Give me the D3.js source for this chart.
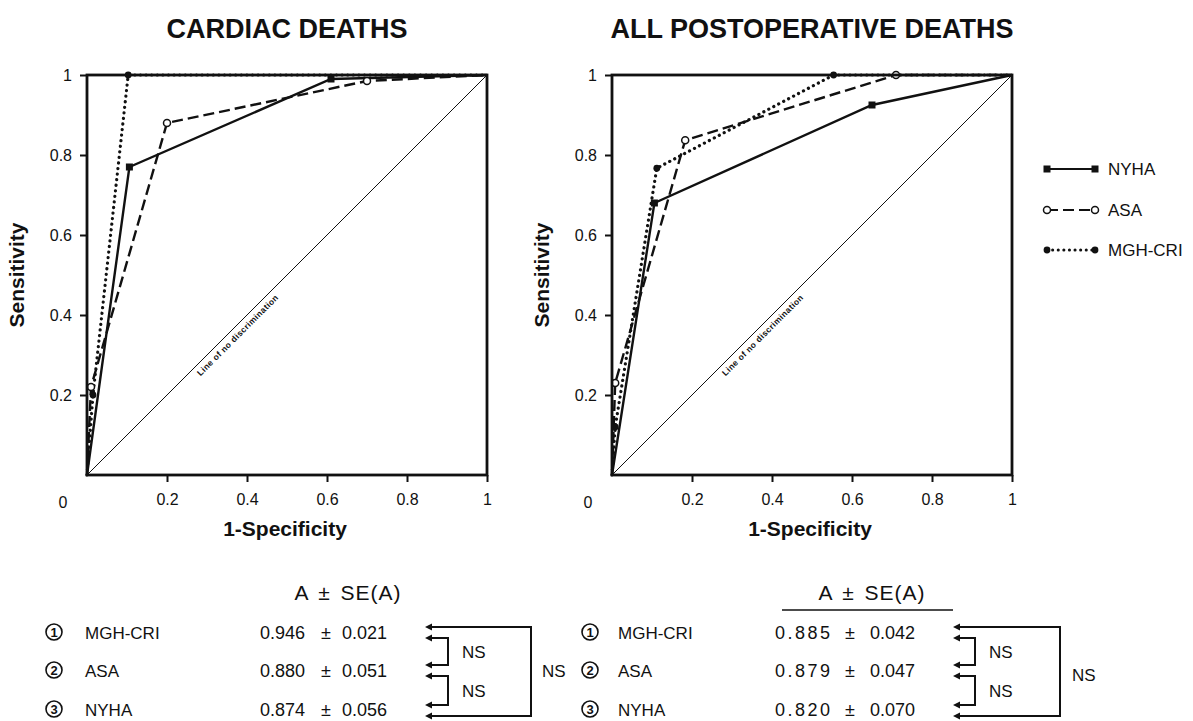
<!DOCTYPE html>
<html>
<head>
<meta charset="utf-8">
<script src="https://cdn.jsdelivr.net/npm/d3@7"></script>
<style>
  body { margin: 0; background: #fff; }
  text { font-family: "Liberation Sans", Arial, sans-serif; fill: #111; }
</style>
</head>
<body>
<div id="chart"></div>
<script>
// ---- data ----
const panelTitles = ["CARDIAC DEATHS", "ALL POSTOPERATIVE DEATHS"];
const seriesNames = ["NYHA", "ASA", "MGH-CRI"];
const xTicks = [0.2, 0.4, 0.6, 0.8, 1];
const yTicks = [0.2, 0.4, 0.6, 0.8, 1];

// [1-specificity, sensitivity]
const cardiacNYHA = [[0, 0], [0.106, 0.77], [0.61, 0.99], [1, 1]];
const cardiacASA  = [[0, 0], [0.01, 0.22], [0.2, 0.88], [0.7, 0.985], [1, 1]];
const cardiacMGH  = [[0, 0], [0.015, 0.2], [0.103, 1], [1, 1]];

const allNYHA = [[0, 0], [0.106, 0.68], [0.65, 0.925], [1, 1]];
const allASA  = [[0, 0], [0.008, 0.23], [0.183, 0.837], [0.71, 1], [1, 1]];
const allMGH  = [[0, 0], [0.008, 0.12], [0.112, 0.767], [0.554, 1], [1, 1]];

// areas under the curves, A ± SE(A)
const tableNames = ["MGH-CRI", "ASA", "NYHA"];
const cardiacA  = ["0.946", "0.880", "0.874"];
const cardiacSE = ["0.021", "0.051", "0.056"];
const allA  = ["0.885", "0.879", "0.820"];
const allSE = ["0.042", "0.047", "0.070"];
const compareLabel = "NS";

// ---- layout ----
const width = 1193, height = 721;
const plotTop = 75, plotSize = 400;
const plotLefts = [87, 612];

const svg = d3.select("#chart").append("svg")
    .attr("width", width)
    .attr("height", height);

const styles = {
  "NYHA":    {dash: null, marker: "square"},
  "ASA":     {dash: "11,5", marker: "open"},
  "MGH-CRI": {dash: "0.1,5.5", marker: "dot"}
};

const panelData = [
  [cardiacNYHA, cardiacASA, cardiacMGH],
  [allNYHA, allASA, allMGH]
];

const tickFmt = d => d === 1 ? "1" : d.toFixed(1);

function drawMarker(g, kind, cx, cy) {
  if (kind === "square") {
    g.append("rect").attr("x", cx - 3.5).attr("y", cy - 3.5)
      .attr("width", 7).attr("height", 7).attr("fill", "#111");
  } else if (kind === "open") {
    g.append("circle").attr("cx", cx).attr("cy", cy).attr("r", 3.5)
      .attr("fill", "#fff").attr("stroke", "#111").attr("stroke-width", 1.5);
  } else {
    g.append("circle").attr("cx", cx).attr("cy", cy).attr("r", 3.4)
      .attr("fill", "#111");
  }
}

plotLefts.forEach((left, p) => {
  const x = d3.scaleLinear().domain([0, 1]).range([left, left + plotSize]);
  const y = d3.scaleLinear().domain([0, 1]).range([plotTop + plotSize, plotTop]);
  const g = svg.append("g");

  // title
  g.append("text")
    .attr("x", left + plotSize / 2).attr("y", 38)
    .attr("text-anchor", "middle")
    .style("font-size", "27px").style("font-weight", "bold")
    .text(panelTitles[p]);

  // axes (outward ticks)
  const ax = g.append("g")
    .attr("transform", "translate(0," + (plotTop + plotSize) + ")")
    .call(d3.axisBottom(x).tickValues(xTicks).tickSize(7).tickSizeOuter(0).tickPadding(12).tickFormat(tickFmt));
  const ay = g.append("g")
    .attr("transform", "translate(" + left + ",0)")
    .call(d3.axisLeft(y).tickValues(yTicks).tickSize(7).tickSizeOuter(0).tickPadding(8).tickFormat(tickFmt));
  [ax, ay].forEach(a => {
    a.select(".domain").remove();
    a.selectAll(".tick line").attr("stroke", "#111").attr("stroke-width", 2);
    a.selectAll(".tick text").style("font-size", "16px").style("font-family", "'Liberation Sans', Arial, sans-serif").attr("fill", "#111");
  });

  // corner zero
  g.append("text")
    .attr("x", left - 24).attr("y", plotTop + plotSize + 33)
    .attr("text-anchor", "middle").style("font-size", "16px").text("0");

  // axis titles
  g.append("text")
    .attr("transform", "translate(" + (left - 63) + "," + (plotTop + plotSize / 2) + ") rotate(-90)")
    .attr("text-anchor", "middle")
    .style("font-size", "21px").style("font-weight", "bold")
    .text("Sensitivity");
  g.append("text")
    .attr("x", left + plotSize / 2 - 2).attr("y", plotTop + plotSize + 61)
    .attr("text-anchor", "middle")
    .style("font-size", "21px").style("font-weight", "bold")
    .text("1-Specificity");

  // line of no discrimination
  g.append("line")
    .attr("x1", x(0)).attr("y1", y(0)).attr("x2", x(1)).attr("y2", y(1))
    .attr("stroke", "#111").attr("stroke-width", 1);
  g.append("text")
    .attr("transform", "translate(" + (x(0.265) + 3) + "," + (y(0.265) + 3) + ") rotate(-45)")
    .attr("dy", "0.75em")
    .style("font-size", "8.5px").style("font-weight", "bold").style("letter-spacing", "0.4px")
    .text("Line of no discrimination");

  // ROC curves
  const line = d3.line().x(d => x(d[0])).y(d => y(d[1]));
  panelData[p].forEach((pts, s) => {
    const st = styles[seriesNames[s]];
    const path = g.append("path").datum(pts)
      .attr("d", line)
      .attr("fill", "none").attr("stroke", "#111")
      .attr("stroke-width", st.marker === "dot" ? 3.2 : 2.4);
    if (st.dash) path.attr("stroke-dasharray", st.dash);
    if (st.marker === "dot") path.attr("stroke-linecap", "round");
  });
  panelData[p].forEach((pts, s) => {
    const st = styles[seriesNames[s]];
    pts.slice(1, -1).forEach(d => drawMarker(g, st.marker, x(d[0]), y(d[1])));
  });

  // frame
  g.append("rect")
    .attr("x", left).attr("y", plotTop)
    .attr("width", plotSize).attr("height", plotSize)
    .attr("fill", "none").attr("stroke", "#111").attr("stroke-width", 2.8);
});

// ---- legend ----
const legendY = [169, 210, 250];
const lg = svg.append("g");
seriesNames.forEach((name, i) => {
  const st = styles[name];
  const yy = legendY[i];
  const l = lg.append("line")
    .attr("x1", 1047).attr("x2", 1095).attr("y1", yy).attr("y2", yy)
    .attr("stroke", "#111").attr("stroke-width", st.marker === "dot" ? 3 : 2.2);
  if (st.dash) l.attr("stroke-dasharray", st.marker === "dot" ? "0.1,5.5" : "11,5");
  if (st.marker === "dot") l.attr("stroke-linecap", "round");
  drawMarker(lg, st.marker, 1047, yy);
  drawMarker(lg, st.marker, 1095, yy);
  lg.append("text").attr("x", 1108).attr("y", yy + 6)
    .style("font-size", "17px").text(name);
});

// ---- tables of A ± SE(A) ----
const rowY = [633, 671, 710];
const tables = [
  {A: cardiacA, SE: cardiacSE, circleX: 54, nameX: 85, valX: 260, pmX: 326, seX: 342, aSpacing: 0,
   headX: 348, arrowX: 425, innerX: 448, outerX: 531, outerNS: [542, 677], underline: false},
  {A: allA, SE: allSE, circleX: 590, nameX: 618, valX: 775, pmX: 850, seX: 870, aSpacing: 2.5,
   headX: 872, arrowX: 953, innerX: 975, outerX: 1060, outerNS: [1072, 681], underline: true}
];

tables.forEach(t => {
  const g = svg.append("g");
  g.append("text").attr("x", t.headX).attr("y", 600)
    .attr("text-anchor", "middle").style("font-size", "21px")
    .style("letter-spacing", "1px").style("word-spacing", "3px")
    .text("A \u00B1 SE(A)");
  if (t.underline) {
    g.append("line").attr("x1", 782).attr("x2", 953).attr("y1", 610).attr("y2", 610)
      .attr("stroke", "#111").attr("stroke-width", 1.3);
  }
  tableNames.forEach((name, i) => {
    const yy = rowY[i];
    g.append("circle").attr("cx", t.circleX).attr("cy", yy - 1).attr("r", 8)
      .attr("fill", "none").attr("stroke", "#111").attr("stroke-width", 1.6);
    g.append("text").attr("x", t.circleX).attr("y", yy + 4)
      .attr("text-anchor", "middle").style("font-size", "13px").style("font-weight", "bold").text(i + 1);
    g.append("text").attr("x", t.nameX).attr("y", yy + 6)
      .style("font-size", "17px").text(name);
    g.append("text").attr("x", t.valX).attr("y", yy + 6)
      .style("font-size", "18px").style("letter-spacing", t.aSpacing + "px")
      .text(t.A[i]);
    g.append("text").attr("x", t.pmX).attr("y", yy + 6)
      .attr("text-anchor", "middle").style("font-size", "18px")
      .text("\u00B1");
    g.append("text").attr("x", t.seX).attr("y", yy + 6)
      .style("font-size", "18px")
      .text(t.SE[i]);
  });

  // comparison brackets with arrowheads
  const arrowYs = [rowY[0] - 6, rowY[0] + 5, rowY[1] - 6, rowY[1] + 5, rowY[2] - 5, rowY[2] + 6];
  const bracket = (y1, y2, bx) => {
    g.append("path")
      .attr("d", "M" + (t.arrowX + 4) + "," + y1 + "H" + bx + "V" + y2 + "H" + (t.arrowX + 4))
      .attr("fill", "none").attr("stroke", "#111").attr("stroke-width", 2);
  };
  bracket(arrowYs[1], arrowYs[2], t.innerX);
  bracket(arrowYs[3], arrowYs[4], t.innerX);
  bracket(arrowYs[0], arrowYs[5], t.outerX);
  arrowYs.forEach(ay => {
    g.append("path")
      .attr("d", "M" + t.arrowX + "," + ay + "l7,-3.5v7z")
      .attr("fill", "#111");
  });
  g.append("text").attr("x", t.innerX + 14).attr("y", (rowY[0] + rowY[1]) / 2 + 6)
    .style("font-size", "17px").text(compareLabel);
  g.append("text").attr("x", t.innerX + 14).attr("y", (rowY[1] + rowY[2]) / 2 + 6)
    .style("font-size", "17px").text(compareLabel);
  g.append("text").attr("x", t.outerNS[0]).attr("y", t.outerNS[1])
    .style("font-size", "17px").text(compareLabel);
});
</script>
</body>
</html>
